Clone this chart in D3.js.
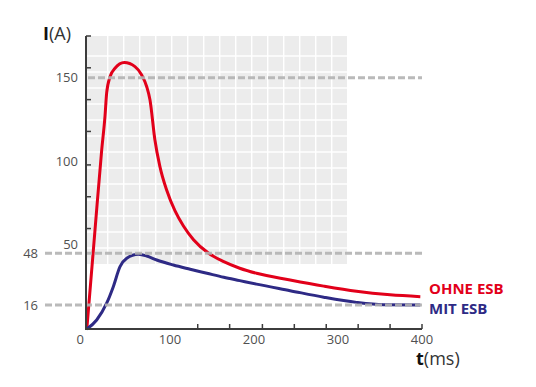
<html>

<head>
    <style>
        body { margin: 0; background: #fff; }
        text { font-family: "Open Sans", sans-serif; }
    </style>
</head>

<body>
    <svg id="container" height="387" width="536"></svg>
</body>
<script src="https://cdn.jsdelivr.net/npm/d3@7"></script>
<script>
    // time (ms) and current (A)
    let ohneT = [1, 10.7, 18.7, 22.6, 24.6, 28.6, 34.5, 45.6, 58.3, 66.3, 72.3, 76.2, 82, 88, 96, 106, 116, 128, 146, 164, 183, 203, 243, 283, 322, 362, 398]
    let ohneI = [0, 59, 107, 127, 141, 150.7, 155.7, 159.1, 156.7, 151.7, 144.7, 136.8, 113, 97, 83, 70.5, 61.5, 53.3, 45.2, 40.2, 36.3, 33.3, 29.3, 25.6, 22.5, 20.4, 19.3]

    let mitT = [1, 12.7, 24.6, 32.5, 40.5, 48.5, 62.3, 72.3, 84.2, 104, 124, 144, 164, 183, 203, 243, 283, 322, 354, 398]
    let mitI = [0, 5.4, 15.4, 25.3, 37.2, 42.2, 44.6, 43.6, 41.2, 38.2, 35.7, 33.3, 30.9, 28.9, 26.8, 22.9, 19, 15.9, 14.5, 14.3]

    // dashed reference lines and their labels
    let refValues = [150, 45.2, 14.3]
    let refLabels = ["", "48", "16"]

    // axis ticks and labels
    let xLabels = [0, 100, 200, 300, 400]
    let xTicks = [133, 171, 210, 248, 286, 324, 362, 400]
    let yLabels = [150, 100, 50]
    let yTicks = [60, 79, 98, 118, 137, 156, 175]

    let svg = d3.select("#container")

    let x = d3.scaleLinear().domain([0, 400]).range([86, 422])
    let y = d3.scaleLinear().domain([0, 175]).range([329, 36])

    // grey grid panel behind the peak
    let grid = svg.append("g")
    grid.append("rect")
        .attr("x", x(0)).attr("y", y(175))
        .attr("width", x(310.7) - x(0)).attr("height", y(38.8) - y(175))
        .attr("fill", "#ececec")
    grid.selectAll(".gv")
        .data(d3.range(15))
        .enter().append("line")
        .attr("x1", d => 107.7 + d * 16).attr("x2", d => 107.7 + d * 16)
        .attr("y1", y(175)).attr("y2", y(38.8))
        .attr("stroke", "#fff").attr("stroke-width", 1.5)
    grid.selectAll(".gh")
        .data(d3.range(13))
        .enter().append("line")
        .attr("x1", x(0)).attr("x2", x(310.7))
        .attr("y1", d => 56 + d * 16).attr("y2", d => 56 + d * 16)
        .attr("stroke", "#fff").attr("stroke-width", 1.5)

    // curves
    let line = d3.line()
        .x(d => x(d[0]))
        .y(d => y(d[1]))
        .curve(d3.curveMonotoneX)

    svg.append("path")
        .attr("d", line(d3.zip(ohneT, ohneI)))
        .attr("fill", "none").attr("stroke", "#e2001a").attr("stroke-width", 3)

    svg.append("path")
        .attr("d", line(d3.zip(mitT, mitI)))
        .attr("fill", "none").attr("stroke", "#2e2a85").attr("stroke-width", 3)

    // dashed lines on top
    svg.selectAll(".ref")
        .data(refValues)
        .enter().append("line")
        .attr("x1", (d, i) => i == 0 ? 88 : 45)
        .attr("x2", x(400))
        .attr("y1", d => y(d)).attr("y2", d => y(d))
        .attr("stroke", "#b3b3b3").attr("stroke-width", 3)
        .attr("stroke-dasharray", "7,3")
        .attr("opacity", 0.9)

    svg.selectAll(".reflabel")
        .data(refValues)
        .enter().append("text")
        .attr("x", 38).attr("y", d => y(d) + 4.5)
        .attr("text-anchor", "end")
        .attr("font-size", 13).attr("fill", "#505050")
        .text((d, i) => refLabels[i])

    // axes
    let axisColor = "#3c3c3c"
    svg.append("line")
        .attr("x1", x(0)).attr("x2", x(0)).attr("y1", y(175)).attr("y2", y(0) + 1)
        .attr("stroke", axisColor).attr("stroke-width", 2)
    svg.append("line")
        .attr("x1", x(0) - 1).attr("x2", x(400)).attr("y1", y(0)).attr("y2", y(0))
        .attr("stroke", axisColor).attr("stroke-width", 2)

    svg.selectAll(".yt")
        .data(yTicks)
        .enter().append("line")
        .attr("x1", x(0)).attr("x2", x(0) + 5)
        .attr("y1", d => y(d)).attr("y2", d => y(d))
        .attr("stroke", axisColor).attr("stroke-width", 1.5)

    svg.selectAll(".xt")
        .data(xTicks)
        .enter().append("line")
        .attr("x1", d => x(d)).attr("x2", d => x(d))
        .attr("y1", y(0)).attr("y2", y(0) - 5)
        .attr("stroke", axisColor).attr("stroke-width", 1.5)

    svg.selectAll(".xl")
        .data(xLabels)
        .enter().append("text")
        .attr("x", d => d == 0 ? x(d) - 2 : x(d))
        .attr("y", 344)
        .attr("text-anchor", d => d == 0 ? "end" : "middle")
        .attr("font-size", 13).attr("fill", "#505050")
        .text(d => d)

    svg.selectAll(".yl")
        .data(yLabels)
        .enter().append("text")
        .attr("x", 78).attr("y", d => y(d) + 4)
        .attr("text-anchor", "end")
        .attr("font-size", 13).attr("fill", "#505050")
        .text(d => d)

    // axis titles
    let yTitle = svg.append("text").attr("x", 43).attr("y", 39.5).attr("font-size", 18).attr("fill", "#333")
    yTitle.append("tspan").attr("font-weight", "bold").attr("fill", "#111").text("I")
    yTitle.append("tspan").text("(A)")

    let xTitle = svg.append("text").attr("x", 416).attr("y", 365).attr("font-size", 18).attr("fill", "#333")
    xTitle.append("tspan").attr("font-weight", "bold").attr("fill", "#111").text("t")
    xTitle.append("tspan").text("(ms)")

    // legend
    svg.append("text").attr("x", 429).attr("y", 293.5)
        .attr("font-size", 15).attr("font-weight", "bold").attr("fill", "#e2001a")
        .text("OHNE ESB")
    svg.append("text").attr("x", 429).attr("y", 313.5)
        .attr("font-size", 15).attr("font-weight", "bold").attr("fill", "#2e2a85")
        .text("MIT ESB")

</script>

</html>
